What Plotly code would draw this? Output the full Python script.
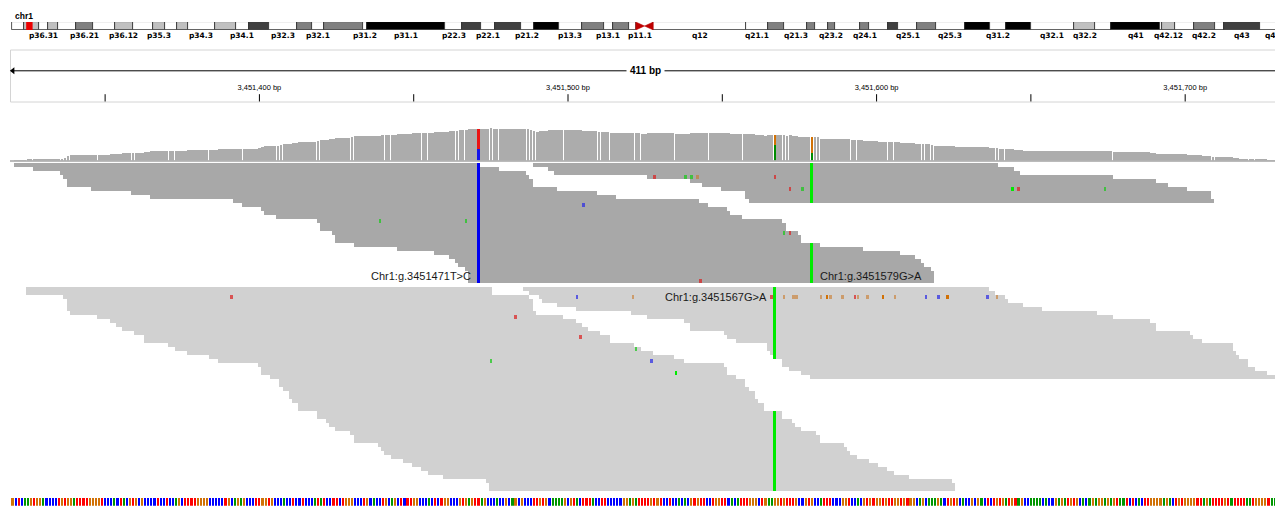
import numpy as np
import plotly.graph_objects as go

# ----------------------------------------------------------------- data ----
REF_W, REF_H = 1283, 508          # size of the browser window
BODY_MARGIN = 8                   # default page margin around the plot div
FIG_W, FIG_H = REF_W - BODY_MARGIN, REF_H - BODY_MARGIN
PLOT_LEFT_PX = 11                 # window pixel where the data area starts

CHROM_LABEL = "chr1"
VIEW_START, VIEW_END = 3451320, 3451730          # 411 bp window
X_RANGE = [3451319.5, 3451731.7]
READ_LENGTH = 151

# reference sequence shown in the sequence track (starts at SEQ_START)
SEQ_START = 3451320
REF_SEQ = (
    "GCTCAAGTGG" "ACCCCTGTGG" "ATTTTGGGGT" "CCCACTACGT" "GCGCCCCTCC" "TCCAGCTTTT"
    "GGGGCCCCCT" "GCAGAGCCCT" "TGGTGCCCAC" "CTCCTCCCAT" "ATCCTTCTGG" "GCCCTGCACC"
    "TGCAGCT"
    "CTTGGCCCAC" "TCTGGCCCGT" "GAGTTAGCCC" "ACCGCAGCGC" "CCTTGTGCAA" "AAGCGTACTT"
    "TACCTTCCCC" "CGGAGATTTT" "GTGTCCTCCA" "CACGTGTTCC" "TGGTTCACAT" "TTGGGCTGAA"
    "GGTGTTTGCC" "GTGCCATTTC" "CC"
    "GGTCCACGTG" "TGGTGTTGGT" "GTGGCAGCAA" "AGACTGTGCA" "CCGCGACTCT" "GTGATGTAGC"
    "CAAAACACCG" "AGATGTGCAC" "AGAGGAGAGT" "AATCTCACTT" "GGGGAGACTG" "TGGGGTTAGA"
    "TTTTGTATTT" "TAATGGGGTA" "AAA"
)

# read start positions, one list per cluster, listed by display row
TOP_LEFT_STARTS = [3451321, 3451327, 3451336, 3451337, 3451338, 3451338, 3451346, 3451359,
                   3451365, 3451392, 3451395, 3451401, 3451402, 3451406, 3451419, 3451420,
                   3451420, 3451424, 3451425, 3451425, 3451431, 3451445, 3451457, 3451462,
                   3451464, 3451465, 3451467, 3451468, 3451468, 3451468]
TOP_RIGHT_STARTS = [3451489, 3451494, 3451496, 3451526, 3451540, 3451544, 3451550, 3451558,
                    3451558, 3451559]
BOTTOM_LEFT_STARTS = [3451325, 3451325, 3451337, 3451338, 3451338, 3451338, 3451339, 3451348,
                      3451352, 3451354, 3451356, 3451360, 3451363, 3451363, 3451371, 3451373,
                      3451377, 3451384, 3451387, 3451400, 3451401, 3451401, 3451404, 3451407,
                      3451407, 3451408, 3451410, 3451410, 3451411, 3451413, 3451413, 3451419,
                      3451419, 3451422, 3451423, 3451425, 3451430, 3451431, 3451431, 3451439,
                      3451440, 3451441, 3451443, 3451447, 3451450, 3451453, 3451455, 3451460,
                      3451474, 3451475, 3451475]
BOTTOM_RIGHT_STARTS = [3451486, 3451488, 3451491, 3451492, 3451497, 3451503, 3451521, 3451526,
                       3451538, 3451540, 3451540, 3451551, 3451552, 3451555, 3451565, 3451565,
                       3451566, 3451567, 3451570, 3451570, 3451572, 3451576, 3451579]
TOP_FIRST_ROW = 0
BOTTOM_FIRST_ROW = 31
N_ROWS = 82

# variants (alt allele carried by every read of the named group)
VARIANT_POS = [3451471, 3451567, 3451579]
VARIANT_REF = ["T", "G", "G"]
VARIANT_ALT = ["C", "A", "A"]
VARIANT_GROUP = ["top", "bottom", "top"]
VARIANT_LABEL = ["Chr1:g.3451471T>C", "Chr1:g.3451567G>A", "Chr1:g.3451579G>A"]
LABEL_ROW = [27.75, 33.0, 27.75]
LABEL_SIDE = ["left", "left", "right"]

# isolated mismatches: display row, position, base, high quality?
MM_ROW = [10, 14, 14, 3, 3, 3, 3, 3, 6, 6, 6, 6, 6, 17, 17, 29,
          33, 33, 33, 33, 33, 33, 33, 33, 33, 33, 33, 33, 33, 33, 33, 33, 33, 33, 33, 33, 33,
          38, 43, 46, 49, 49, 52]
MM_POS = [3451505, 3451439, 3451467, 3451528, 3451538, 3451540, 3451542, 3451567, 3451572,
          3451576, 3451644, 3451646, 3451674, 3451570, 3451572, 3451543,
          3451391, 3451503, 3451521, 3451566, 3451570, 3451573, 3451574, 3451582, 3451584,
          3451585, 3451589, 3451593, 3451594, 3451597, 3451602, 3451606, 3451616, 3451620,
          3451623, 3451636, 3451639,
          3451483, 3451504, 3451522, 3451475, 3451527, 3451535]
MM_BASE = ["C", "A", "A", "T", "A", "A", "G", "T", "T", "A", "A", "T", "A", "A", "T", "T",
           "T", "C", "G", "T", "G", "G", "G", "G", "G", "G", "G", "T", "G", "G", "G", "G",
           "C", "C", "G", "C", "G",
           "T", "T", "A", "A", "C", "A"]
MM_HIGHQ = [0, 0, 0, 0, 0, 0, 0, 0, 0, 0, 1, 0, 0, 0, 0, 0,
            0, 0, 0, 0, 0, 0, 0, 0, 1, 0, 0, 0, 0, 0, 1, 0, 0, 0, 1, 0, 0,
            0, 0, 0, 0, 0, 1]

# chr1 cytobands (Mb)
BAND_NAME = ["p36.33", "p36.32", "p36.31", "p36.23", "p36.22", "p36.21", "p36.13", "p36.12",
             "p36.11", "p35.3", "p35.2", "p35.1", "p34.3", "p34.2", "p34.1", "p33", "p32.3",
             "p32.2", "p32.1", "p31.3", "p31.2", "p31.1", "p22.3", "p22.2", "p22.1", "p21.3",
             "p21.2", "p21.1", "p13.3", "p13.2", "p13.1", "p12", "p11.2", "p11.1", "q11",
             "q12", "q21.1", "q21.2", "q21.3", "q22", "q23.1", "q23.2", "q23.3", "q24.1",
             "q24.2", "q24.3", "q25.1", "q25.2", "q25.3", "q31.1", "q31.2", "q31.3", "q32.1",
             "q32.2", "q32.3", "q41", "q42.11", "q42.12", "q42.13", "q42.2", "q42.3", "q43",
             "q44"]
BAND_START = [0.0, 2.3, 5.3, 7.1, 9.1, 12.5, 15.9, 20.1, 23.6, 27.6, 29.9, 32.3, 34.3, 39.6,
              43.7, 46.3, 50.2, 55.6, 58.5, 60.8, 68.5, 69.3, 84.4, 87.9, 91.5, 94.3, 99.3,
              101.8, 106.7, 111.2, 115.5, 117.2, 120.4, 121.7, 123.4, 125.1, 143.2, 147.5,
              150.6, 155.1, 156.6, 159.1, 160.5, 165.5, 167.2, 170.9, 172.9, 176.5, 180.3,
              185.8, 190.8, 193.8, 198.7, 207.1, 211.3, 214.4, 223.9, 224.4, 226.8, 230.5,
              234.6, 236.4, 243.5]
BAND_END = BAND_START[1:] + [248.956]
BAND_STAIN = ["gneg", "gpos25", "gneg", "gpos25", "gneg", "gpos50", "gneg", "gpos25", "gneg",
              "gpos25", "gneg", "gpos25", "gneg", "gpos25", "gneg", "gpos75", "gneg", "gpos50",
              "gneg", "gpos50", "gneg", "gpos100", "gneg", "gpos75", "gneg", "gpos75", "gneg",
              "gpos100", "gneg", "gpos50", "gneg", "gpos50", "gneg", "acen", "acen", "gvar",
              "gneg", "gpos50", "gneg", "gpos50", "gneg", "gpos50", "gneg", "gpos50", "gneg",
              "gpos75", "gneg", "gpos50", "gneg", "gpos100", "gneg", "gpos100", "gneg",
              "gpos25", "gneg", "gpos100", "gneg", "gpos25", "gneg", "gpos50", "gneg", "gpos75",
              "gneg"]
SHOWN_BAND_LABELS = ["p36.31", "p36.21", "p36.12", "p35.3", "p34.3", "p34.1", "p32.3", "p32.1",
                     "p31.2", "p31.1", "p22.3", "p22.1", "p21.2", "p13.3", "p13.1", "p11.1",
                     "q12", "q21.1", "q21.3", "q23.2", "q24.1", "q25.1", "q25.3", "q31.2",
                     "q32.1", "q32.2", "q41", "q42.12", "q42.2", "q43", "q44"]
IDEO_RANGE = [-0.137, 247.9]

RULER_TICK_STEP = 50
RULER_LABEL_STEP = 100

# ---------------------------------------------------------------- style ----
STAIN_COLOR = {"gneg": "white", "gpos25": "rgb(192,192,192)", "gpos50": "rgb(128,128,128)",
               "gpos75": "rgb(64,64,64)", "gpos100": "black", "gvar": "white",
               "acen": "rgb(190,0,0)"}
SEQ_COLOR = {"A": "rgb(0,150,0)", "C": "rgb(0,0,255)", "G": "rgb(209,113,5)", "T": "rgb(255,0,0)"}
COV_ALLELE_COLOR = {"A": "rgb(0,140,0)", "C": "rgb(20,20,235)", "G": "rgb(209,113,5)",
                    "T": "rgb(235,20,20)"}
READ_HI = {"A": "rgb(0,235,0)", "C": "rgb(0,0,240)", "G": "rgb(209,113,5)", "T": "rgb(230,0,0)"}
READ_LO = {"A": "rgba(30,200,30,0.75)", "C": "rgba(40,40,230,0.7)",
           "G": "rgba(200,120,40,0.6)", "T": "rgba(220,30,30,0.7)"}
TOP_READ_COLOR = "rgb(168,168,168)"
BOTTOM_READ_COLOR = "rgb(209,209,209)"
COVERAGE_COLOR = "rgb(172,172,172)"
FONT = "Liberation Sans, Arial, sans-serif"


def ydom(top_px, bottom_px):
    return [1 - (bottom_px - BODY_MARGIN) / FIG_H, 1 - (top_px - BODY_MARGIN) / FIG_H]


def paper_x(px):
    return (px - PLOT_LEFT_PX) / (REF_W - PLOT_LEFT_PX)


def paper_y(py):
    return 1 - (py - BODY_MARGIN) / FIG_H


# ------------------------------------------------------------ derived ------
reads = []
for i, s in enumerate(TOP_LEFT_STARTS):
    reads.append(("top", TOP_FIRST_ROW + i, s))
for i, s in enumerate(TOP_RIGHT_STARTS):
    reads.append(("top", TOP_FIRST_ROW + i, s))
for i, s in enumerate(BOTTOM_LEFT_STARTS):
    reads.append(("bottom", BOTTOM_FIRST_ROW + i, s))
for i, s in enumerate(BOTTOM_RIGHT_STARTS):
    reads.append(("bottom", BOTTOM_FIRST_ROW + i, s))

positions = np.arange(SEQ_START, SEQ_START + len(REF_SEQ))
coverage = np.zeros(len(positions), dtype=int)
for _, _, s in reads:
    coverage[(positions >= s) & (positions <= s + READ_LENGTH - 1)] += 1

fig = go.Figure()

# ------------------------------------------------------------ coverage -----
vset = set(VARIANT_POS)
run_x, run_y, run_w = [], [], []
i = 0
n = len(positions)
while i < n:
    if positions[i] in vset:
        i += 1
        continue
    j = i
    while j + 1 < n and coverage[j + 1] == coverage[i] and positions[j + 1] not in vset:
        j += 1
    if coverage[i] > 0:
        run_x.append((positions[i] + positions[j]) / 2)
        run_y.append(int(coverage[i]))
        run_w.append(positions[j] - positions[i] + 1 - 0.12)
    i = j + 1

fig.add_trace(go.Bar(x=run_x, y=run_y, width=run_w, base=0, marker_color=COVERAGE_COLOR,
                     marker_line_width=0, xaxis="x", yaxis="y2", hoverinfo="skip",
                     showlegend=False))

alt_counts = []
for vp, grp in zip(VARIANT_POS, VARIANT_GROUP):
    alt_counts.append(sum(1 for g, _, s in reads if g == grp and s <= vp <= s + READ_LENGTH - 1))
tot_counts = [int(coverage[p - SEQ_START]) for p in VARIANT_POS]
fig.add_trace(go.Bar(x=VARIANT_POS, y=alt_counts, base=0, width=0.75,
                     marker_color=[COV_ALLELE_COLOR[a] for a in VARIANT_ALT],
                     marker_line_width=0, xaxis="x", yaxis="y2", hoverinfo="skip",
                     showlegend=False))
fig.add_trace(go.Bar(x=VARIANT_POS, y=[t - a for t, a in zip(tot_counts, alt_counts)],
                     base=alt_counts, width=0.75,
                     marker_color=[COV_ALLELE_COLOR[r] for r in VARIANT_REF],
                     marker_line_width=0, xaxis="x", yaxis="y2", hoverinfo="skip",
                     showlegend=False))

# --------------------------------------------------------------- reads -----
for grp, col in (("top", TOP_READ_COLOR), ("bottom", BOTTOM_READ_COLOR)):
    rr = [r for g, r, s in reads if g == grp]
    ss = [s - 0.5 for g, r, s in reads if g == grp]
    fig.add_trace(go.Bar(y=rr, x=[READ_LENGTH] * len(rr), base=ss, orientation="h",
                         width=0.9, marker_color=col, marker_line_width=0,
                         xaxis="x", yaxis="y", hoverinfo="skip", showlegend=False))

# variant columns inside the reads
vr, vb, vc = [], [], []
for vp, alt, grp in zip(VARIANT_POS, VARIANT_ALT, VARIANT_GROUP):
    for g, r, s in reads:
        if g == grp and s <= vp <= s + READ_LENGTH - 1:
            vr.append(r)
            vb.append(vp - 0.45)
            vc.append(READ_HI[alt])
fig.add_trace(go.Bar(y=vr, x=[0.9] * len(vr), base=vb, orientation="h", width=1.0,
                     marker_color=vc, marker_line_width=0, xaxis="x", yaxis="y",
                     hoverinfo="skip", showlegend=False))

# isolated mismatches
fig.add_trace(go.Bar(y=MM_ROW, x=[0.8] * len(MM_ROW), base=[p - 0.4 for p in MM_POS],
                     orientation="h", width=0.85,
                     marker_color=[READ_HI[b] if h else READ_LO[b]
                                   for b, h in zip(MM_BASE, MM_HIGHQ)],
                     marker_line_width=0, xaxis="x", yaxis="y", hoverinfo="skip",
                     showlegend=False))

# ------------------------------------------------------------ sequence -----
fig.add_trace(go.Bar(x=positions, y=[1] * n, base=0, width=0.68,
                     marker_color=[SEQ_COLOR[b] for b in REF_SEQ], marker_line_width=0,
                     xaxis="x", yaxis="y3", hoverinfo="skip", showlegend=False))

# --------------------------------------------------------------- ruler -----
first_tick = (VIEW_START // RULER_TICK_STEP + 1) * RULER_TICK_STEP
ticks = list(range(first_tick, VIEW_END + 1, RULER_TICK_STEP))
tx, ty = [], []
for t in ticks:
    tx += [t, t, None]
    ty += [0.01, 0.15, None]
fig.add_trace(go.Scatter(x=tx, y=ty, mode="lines", line=dict(color="black", width=1),
                         xaxis="x", yaxis="y4", hoverinfo="skip", showlegend=False))
labeled = [t for t in ticks if t % RULER_LABEL_STEP == 0]
fig.add_trace(go.Scatter(x=labeled, y=[0.27] * len(labeled), mode="text",
                         text=[f"{t:,} bp" for t in labeled],
                         textfont=dict(family=FONT, size=7.5, color="black"),
                         xaxis="x", yaxis="y4", hoverinfo="skip", showlegend=False,
                         cliponaxis=False))
fig.add_trace(go.Scatter(x=[X_RANGE[0] + 0.6, X_RANGE[1] - 0.6], y=[0.6, 0.6], mode="lines+markers",
                         line=dict(color="black", width=1),
                         marker=dict(symbol=["triangle-left", "triangle-right"], size=6,
                                     color="black"),
                         xaxis="x", yaxis="y4", hoverinfo="skip", showlegend=False,
                         cliponaxis=False))
span_text = f"{VIEW_END - VIEW_START + 1} bp"
fig.add_annotation(x=(VIEW_START + VIEW_END) / 2, y=0.6, xref="x", yref="y4",
                   text=f"<b>{span_text}</b>", showarrow=False, bgcolor="white", borderpad=3,
                   yanchor="middle", font=dict(family=FONT, size=10, color="black"))

# ----------------------------------------------------------- ideogram ------
nb = [k for k, s in enumerate(BAND_STAIN) if s != "acen"]
fig.add_trace(go.Bar(y=[0.5] * len(nb), x=[BAND_END[k] - BAND_START[k] for k in nb],
                     base=[BAND_START[k] for k in nb], orientation="h", width=1.0,
                     marker=dict(color=[STAIN_COLOR[BAND_STAIN[k]] for k in nb],
                                 line=dict(color="rgb(40,40,40)", width=0.8)),
                     xaxis="x2", yaxis="y5", hoverinfo="skip", showlegend=False))
for k, s in enumerate(BAND_STAIN):
    if s != "acen":
        continue
    if BAND_NAME[k].startswith("p"):
        xs = [BAND_START[k], BAND_START[k], BAND_END[k], BAND_START[k]]
    else:
        xs = [BAND_END[k], BAND_END[k], BAND_START[k], BAND_END[k]]
    fig.add_trace(go.Scatter(x=xs, y=[0, 1, 0.5, 0], mode="lines", fill="toself",
                             fillcolor=STAIN_COLOR["acen"],
                             line=dict(color=STAIN_COLOR["acen"], width=0.5),
                             xaxis="x2", yaxis="y5", hoverinfo="skip", showlegend=False))

view_center_mb = (VIEW_START + VIEW_END) / 2 / 1e6
fig.add_shape(type="rect", xref="x2", yref="y5", x0=view_center_mb - 0.52,
              x1=view_center_mb + 0.52, y0=-0.25, y1=1.25,
              fillcolor="rgb(235,0,0)", line=dict(color="rgb(235,0,0)", width=1))

for name in SHOWN_BAND_LABELS:
    k = BAND_NAME.index(name)
    mid = (BAND_START[k] + BAND_END[k]) / 2
    at_edge = mid > IDEO_RANGE[1] - 3
    fig.add_annotation(x=IDEO_RANGE[1] if at_edge else mid, y=paper_y(35), xref="x2",
                       yref="paper", text=f"<b>{name}</b>", showarrow=False,
                       xanchor="right" if at_edge else "center", yanchor="middle",
                       font=dict(family="DejaVu Sans, Verdana, sans-serif", size=7.5,
                                 color="black"))
fig.add_annotation(x=paper_x(12.5), y=paper_y(16), xref="paper", yref="paper",
                   text=f"<b>{CHROM_LABEL}</b>", showarrow=False, xanchor="left",
                   yanchor="middle", font=dict(family=FONT, size=8.5, color="black"))

# --------------------------------------------------------- variant labels --
for vp, lab, row, side in zip(VARIANT_POS, VARIANT_LABEL, LABEL_ROW, LABEL_SIDE):
    fig.add_annotation(x=vp, y=row, xref="x", yref="y", text=lab, showarrow=False,
                       xanchor="right" if side == "left" else "left", yanchor="middle",
                       xshift=-5.5 if side == "left" else 6,
                       font=dict(family=FONT, size=11, color="rgb(25,25,25)"))

# ------------------------------------------------------------ frames -------
fig.add_shape(type="rect", xref="paper", yref="paper", x0=paper_x(10.5), x1=paper_x(1282.5),
              y0=paper_y(102), y1=paper_y(50), line=dict(color="rgb(212,212,212)", width=1),
              fillcolor="rgba(0,0,0,0)", layer="below")
fig.add_shape(type="line", xref="paper", yref="paper", x0=paper_x(10), x1=1,
              y0=paper_y(161), y1=paper_y(161), line=dict(color="rgb(165,165,165)", width=1.5))

# -------------------------------------------------------------- layout -----
hidden = dict(visible=False, fixedrange=True)
fig.update_layout(
    width=FIG_W, height=FIG_H,
    margin=dict(l=PLOT_LEFT_PX - BODY_MARGIN, r=0, t=0, b=0),
    paper_bgcolor="white", plot_bgcolor="white",
    barmode="overlay", bargap=0,
    xaxis=dict(range=X_RANGE, domain=[0, 1], anchor="y", **hidden),
    xaxis2=dict(range=IDEO_RANGE, domain=[0, 1], anchor="y5", **hidden),
    yaxis=dict(range=[N_ROWS - 0.5, -0.5], domain=ydom(163, 491), **hidden),
    yaxis2=dict(range=[0, int(coverage.max())], domain=ydom(127.7, 160.5), **hidden),
    yaxis3=dict(range=[0, 1], domain=ydom(497.7, 505.7), **hidden),
    yaxis4=dict(range=[0, 1], domain=ydom(50, 102), **hidden),
    yaxis5=dict(range=[0, 1], domain=ydom(22, 30), **hidden),
    showlegend=False,
)

fig.write_html("out.html", config={"displayModeBar": False})
